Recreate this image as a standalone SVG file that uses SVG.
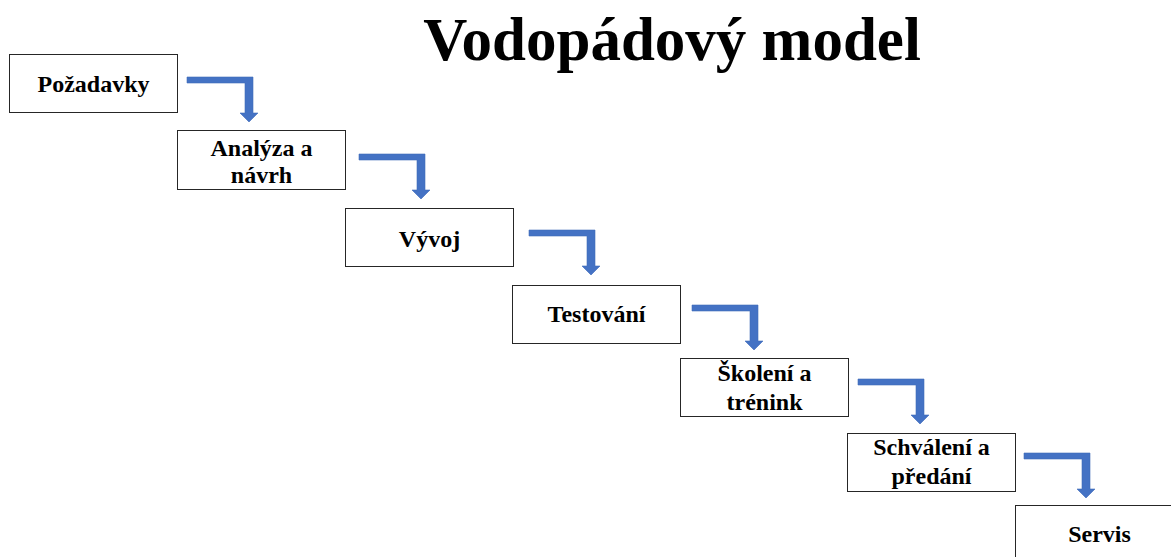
<svg xmlns="http://www.w3.org/2000/svg" xmlns:xlink="http://www.w3.org/1999/xlink" width="1171" height="557" viewBox="0 0 1171 557">
  <style>
    .box { fill: #ffffff; stroke: #262626; stroke-width: 1; }
    .lbl { font-family: "Liberation Serif", "Times New Roman", serif; font-weight: bold; font-size: 24px; fill: #000000; text-anchor: middle; }
    .title { font-family: "Liberation Serif", "Times New Roman", serif; font-weight: bold; font-size: 61px; fill: #000000; text-anchor: middle; }
    .step { fill: #4472C4; stroke: #3F6BBA; stroke-width: 0.6; }
  </style>
  <defs>
    <!-- bent arrow: horizontal bar turning down into an arrowhead -->
    <path id="bent" class="step" d="M0,0 H66 V36 H71 L62,45 L53,36 H58 V6 H0 Z"/>
  </defs>

  <rect width="1171" height="557" fill="#ffffff"/>

  <text class="title" x="672" y="60">Vodopádový model</text>

  <g id="connectors">
    <use xlink:href="#bent" x="187" y="77"/>
    <use xlink:href="#bent" x="359" y="154"/>
    <use xlink:href="#bent" x="529" y="230"/>
    <use xlink:href="#bent" x="692" y="305"/>
    <use xlink:href="#bent" x="858" y="379"/>
    <use xlink:href="#bent" x="1024" y="453"/>
  </g>

  <g id="pozadavky">
    <rect class="box" x="9.5" y="54.5" width="168" height="58"/>
    <text class="lbl" x="93.5" y="92">Požadavky</text>
  </g>
  <g id="analyza">
    <rect class="box" x="177.5" y="130.5" width="168" height="59"/>
    <text class="lbl" x="261.5" y="156">Analýza a</text>
    <text class="lbl" x="261.5" y="183">návrh</text>
  </g>
  <g id="vyvoj">
    <rect class="box" x="345.5" y="208.5" width="168" height="58"/>
    <text class="lbl" x="429.5" y="247">Vývoj</text>
  </g>
  <g id="testovani">
    <rect class="box" x="512.5" y="285.5" width="168" height="58"/>
    <text class="lbl" x="596.5" y="322">Testování</text>
  </g>
  <g id="skoleni">
    <rect class="box" x="680.5" y="358.5" width="168" height="58"/>
    <text class="lbl" x="764.5" y="381">Školení a</text>
    <text class="lbl" x="764.5" y="410">trénink</text>
  </g>
  <g id="schvaleni">
    <rect class="box" x="847.5" y="433.5" width="168" height="58"/>
    <text class="lbl" x="931.5" y="455">Schválení a</text>
    <text class="lbl" x="931.5" y="484">předání</text>
  </g>
  <g id="servis">
    <rect class="box" x="1015.5" y="505.5" width="168" height="58"/>
    <text class="lbl" x="1099.5" y="542">Servis</text>
  </g>
</svg>
